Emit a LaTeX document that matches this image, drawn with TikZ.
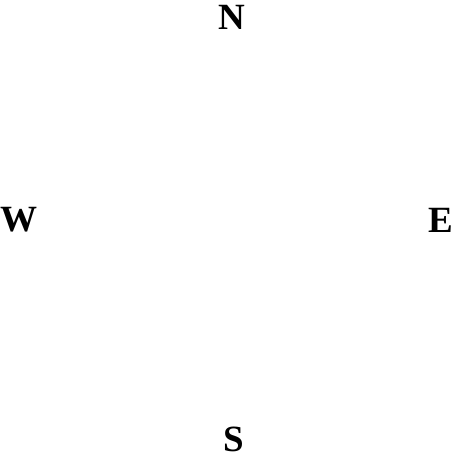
\documentclass[tikz,border=0pt]{standalone}
\usepackage{fontspec}
\setmainfont{Liberation Serif}
\begin{document}
\begin{tikzpicture}[x=1pt,y=1pt,
  dirlabel/.style={inner sep=0pt,anchor=base,text height=25pt,text depth=0pt,font=\fontsize{37}{40}\selectfont\bfseries}]
\useasboundingbox (0,0) rectangle (455,-455);
\node[dirlabel] (n) at (232,-29) {N};
\node[dirlabel] (w) at (19.5,-231) {W};
\node[dirlabel] (e) at (441,-232) {E};
\node[dirlabel] (s) at (234,-451) {S};
\end{tikzpicture}
\end{document}
